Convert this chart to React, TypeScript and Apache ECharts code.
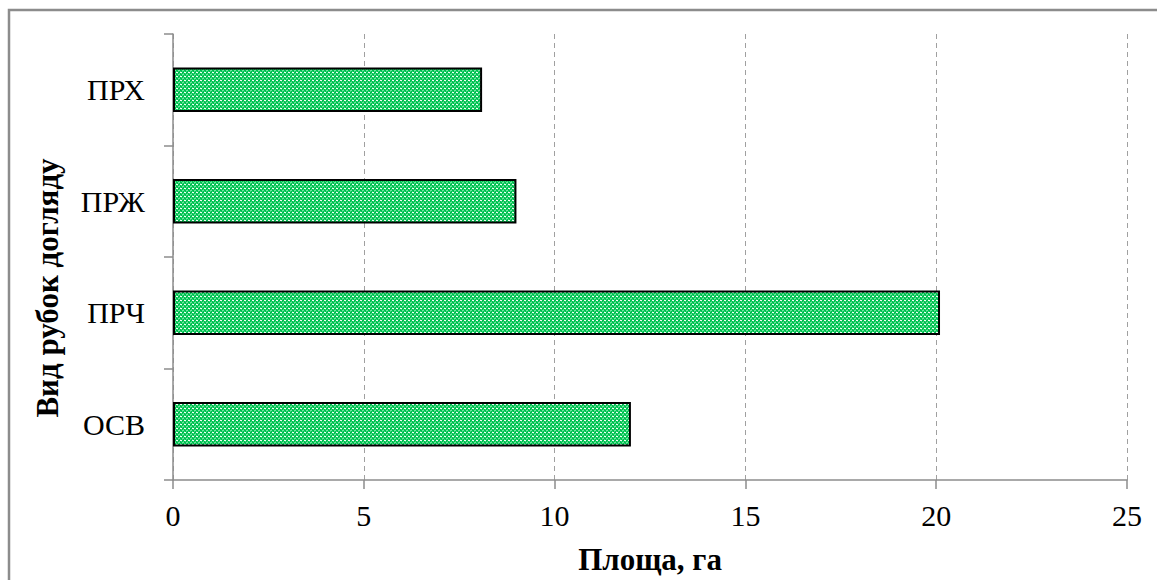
import React, { useEffect, useRef } from "react";
import * as echarts from "echarts";

const categories = ["ОСВ", "ПРЧ", "ПРЖ", "ПРХ"];
const areaValues = [12.0, 20.1, 9.0, 8.1];
const xTicks = { min: 0, max: 25, interval: 5 };
const yTitle = "Вид рубок догляду";
const xTitle = "Площа, га";

function makePattern(): string | null {
  try {
    const c = document.createElement("canvas");
    c.width = 4;
    c.height = 4;
    const ctx = c.getContext("2d");
    if (!ctx) return null;
    ctx.fillStyle = "#00bc50";
    ctx.fillRect(0, 0, 4, 4);
    ctx.fillStyle = "#f0fff6";
    ctx.fillRect(0, 0, 2, 1);
    ctx.fillStyle = "#36dc78";
    ctx.fillRect(1, 1, 1, 1);
    ctx.fillRect(3, 1, 1, 1);
    ctx.fillStyle = "#6ee8a0";
    ctx.fillRect(2, 2, 2, 1);
    ctx.fillStyle = "#36dc78";
    ctx.fillRect(0, 3, 1, 1);
    ctx.fillRect(2, 3, 1, 1);
    return c.toDataURL("image/png");
  } catch (e) {
    return null;
  }
}

export default function App() {
  const ref = useRef<HTMLDivElement>(null);
  useEffect(() => {
    if (!ref.current) return;
    const chart = echarts.init(ref.current, undefined, { renderer: "svg" });
    const pat = makePattern();
    const barColor: any = pat ? { image: pat, repeat: "repeat" } : "#33c872";
    const font = "Liberation Serif";
    chart.setOption({
      animation: false,
      backgroundColor: "#ffffff",
      textStyle: { fontFamily: font },
      grid: { left: 173, right: 30, top: 34, bottom: 96, containLabel: false },
      xAxis: {
        type: "value",
        min: xTicks.min,
        max: xTicks.max,
        interval: xTicks.interval,
        name: xTitle,
        nameLocation: "middle",
        nameGap: 64,
        nameTextStyle: { fontFamily: font, fontSize: 31, fontWeight: "bold", color: "#000" },
        axisLine: { show: true, lineStyle: { color: "#8c8c8c", width: 1.5 } },
        axisTick: { show: true, length: 9, lineStyle: { color: "#8c8c8c", width: 1.5 } },
        axisLabel: { fontFamily: font, fontSize: 30, color: "#000", margin: 20 },
        splitLine: { show: true, lineStyle: { color: "#a0a0a0", type: [5, 4], width: 1 } },
      },
      yAxis: {
        type: "category",
        data: categories,
        axisLine: { show: true, lineStyle: { color: "#8c8c8c", width: 1.5 } },
        axisTick: { show: true, length: 9, lineStyle: { color: "#8c8c8c", width: 1.5 } },
        axisLabel: { fontFamily: font, fontSize: 30, color: "#000", margin: 28 },
        splitLine: { show: false },
      },
      series: [
        {
          type: "bar",
          data: areaValues,
          barCategoryGap: "60%",
          itemStyle: { color: barColor, borderColor: "#000", borderWidth: 2 },
        },
      ],
      graphic: [
        {
          type: "text",
          x: 47,
          y: 288,
          rotation: Math.PI / 2,
          style: {
            text: yTitle,
            fontFamily: font,
            fontSize: 31,
            fontWeight: "bold",
            fill: "#000",
            align: "center",
            verticalAlign: "middle",
          },
          silent: true,
        },
        {
          type: "rect",
          shape: { x: 9, y: 10, width: 1200, height: 620 },
          style: { fill: "none", stroke: "#8c8c8c", lineWidth: 2.5 },
          silent: true,
          z: 100,
        },
      ],
    });
    return () => chart.dispose();
  }, []);
  return (
    <div
      ref={ref}
      style={{ position: "absolute", left: 0, top: 0, width: 1157, height: 580 }}
    />
  );
}
